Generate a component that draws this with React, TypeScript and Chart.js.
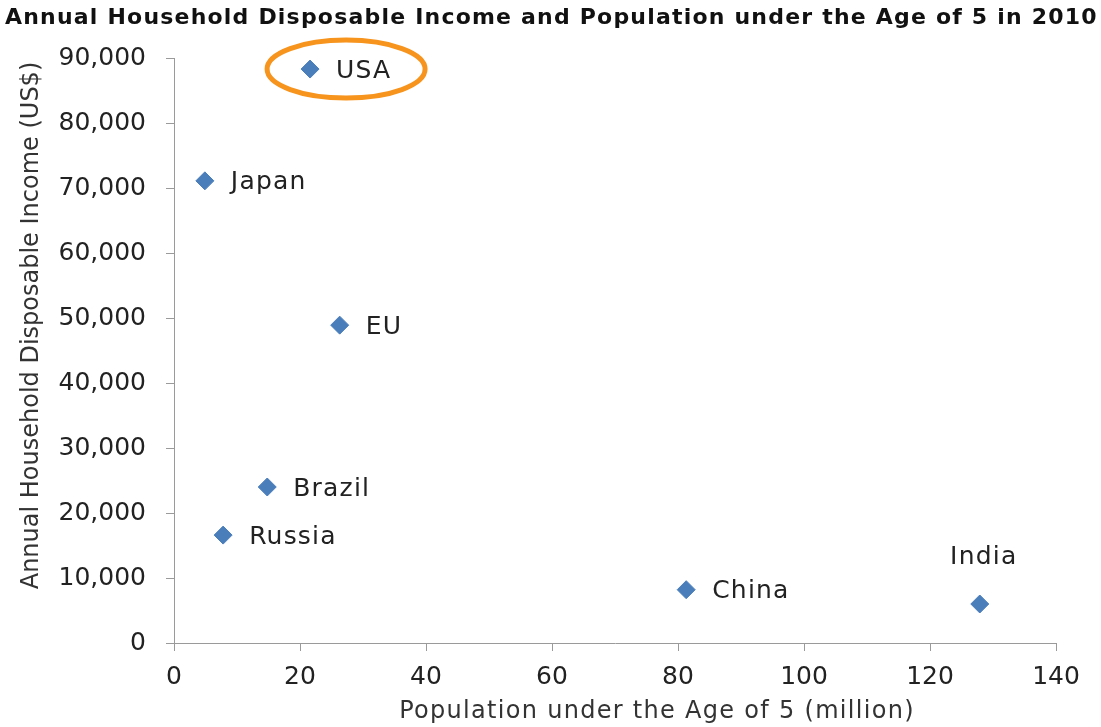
import React, { useEffect, useRef } from "react";
import { Chart, registerables } from "chart.js";

Chart.register(...registerables);

const TITLE = "Annual Household Disposable Income and Population under the Age of 5 in 2010";
const X_TITLE = "Population under the Age of 5 (million)";
const Y_TITLE = "Annual Household Disposable Income (US$)";

const countries = ["USA", "Japan", "EU", "Brazil", "Russia", "China", "India"];
const population = [21.6, 4.9, 26.3, 14.8, 7.8, 81.3, 127.9];
const income = [88300, 71100, 48900, 24000, 16600, 8200, 6000];

const xTicks = [0, 20, 40, 60, 80, 100, 120, 140];
const yTicks = [0, 10000, 20000, 30000, 40000, 50000, 60000, 70000, 80000, 90000];

const highlighted = "USA";
const labelAbove = "India";

const FONT = "'DejaVu Sans', Verdana, sans-serif";

const decorPlugin = {
  id: "decor",
  afterDatasetsDraw(chart: any) {
    const ctx = chart.ctx;
    const meta = chart.getDatasetMeta(0);
    const area = chart.chartArea;
    ctx.save();
    // point labels
    ctx.font = `25px ${FONT}`;
    ctx.fillStyle = "#222";
    (ctx as any).letterSpacing = "1.2px";
    meta.data.forEach((pt: any, i: number) => {
      const name = countries[i];
      if (name === labelAbove) {
        ctx.textAlign = "center";
        ctx.textBaseline = "middle";
        ctx.fillText(name, pt.x + 4, pt.y - 47);
      } else {
        ctx.textAlign = "left";
        ctx.textBaseline = "middle";
        ctx.fillText(name, pt.x + 26, pt.y + 2);
      }
      if (name === highlighted) {
        ctx.beginPath();
        ctx.strokeStyle = "#f7941d";
        ctx.lineWidth = 5;
        ctx.ellipse(pt.x + 36, pt.y, 79, 29, 0, 0, Math.PI * 2);
        ctx.stroke();
      }
    });
    // axis titles
    ctx.fillStyle = "#333";
    ctx.font = `24px ${FONT}`;
    ctx.textAlign = "center";
    ctx.textBaseline = "middle";
    (ctx as any).letterSpacing = "1.3px";
    ctx.fillText(X_TITLE, (area.left + area.right) / 2 + 42, 712);
    ctx.save();
    ctx.translate(32, (area.top + area.bottom) / 2 - 25);
    ctx.rotate(-Math.PI / 2);
    (ctx as any).letterSpacing = "0px";
    ctx.fillText(Y_TITLE, 0, 0);
    ctx.restore();
    // title
    ctx.font = `bold 22px ${FONT}`;
    ctx.fillStyle = "#111";
    ctx.textAlign = "left";
    ctx.textBaseline = "middle";
    (ctx as any).letterSpacing = "1.2px";
    ctx.fillText(TITLE, 5, 18);
    ctx.restore();
  },
};

export default function App() {
  const ref = useRef<HTMLCanvasElement>(null);
  useEffect(() => {
    const chart = new Chart(ref.current!, {
      type: "scatter",
      data: {
        datasets: [
          {
            data: population.map((x, i) => ({ x, y: income[i] })),
            pointStyle: "rectRot",
            pointRadius: 9,
            pointHoverRadius: 9,
            backgroundColor: "#4a7ebb",
            borderColor: "#4a7ebb",
            borderWidth: 1,
          },
        ],
      },
      options: {
        animation: false,
        responsive: false,
        layout: { padding: { top: 58, right: 45, left: 0, bottom: 0 } },
        plugins: {
          legend: { display: false },
          tooltip: { enabled: false },
          title: { display: false },
        },
        scales: {
          x: {
            type: "linear",
            min: 0,
            max: 140,
            afterBuildTicks: (s: any) => {
              s.ticks = xTicks.map((v) => ({ value: v }));
            },
            afterFit: (s: any) => {
              s.height = 84;
            },
            grid: { drawOnChartArea: false, drawTicks: true, tickLength: 8, color: "#9a9a9a" },
            border: { color: "#9a9a9a", width: 1 },
            ticks: { color: "#222", font: { family: FONT, size: 25 }, padding: 11 },
          },
          y: {
            type: "linear",
            min: 0,
            max: 90000,
            afterBuildTicks: (s: any) => {
              s.ticks = yTicks.map((v) => ({ value: v }));
            },
            afterFit: (s: any) => {
              s.width = 174;
            },
            grid: { drawOnChartArea: false, drawTicks: true, tickLength: 8, color: "#9a9a9a" },
            border: { color: "#9a9a9a", width: 1 },
            ticks: {
              color: "#222",
              font: { family: FONT, size: 25 },
              padding: 20,
              callback: (v: any) => Number(v).toLocaleString("en-US"),
            },
          },
        },
      },
      plugins: [decorPlugin],
    });
    return () => chart.destroy();
  }, []);
  return (
    <div style={{ position: "fixed", left: 0, top: 0, width: 1101, height: 727, background: "#fff" }}>
      <canvas ref={ref} width={1101} height={727} style={{ width: 1101, height: 727 }} />
    </div>
  );
}
